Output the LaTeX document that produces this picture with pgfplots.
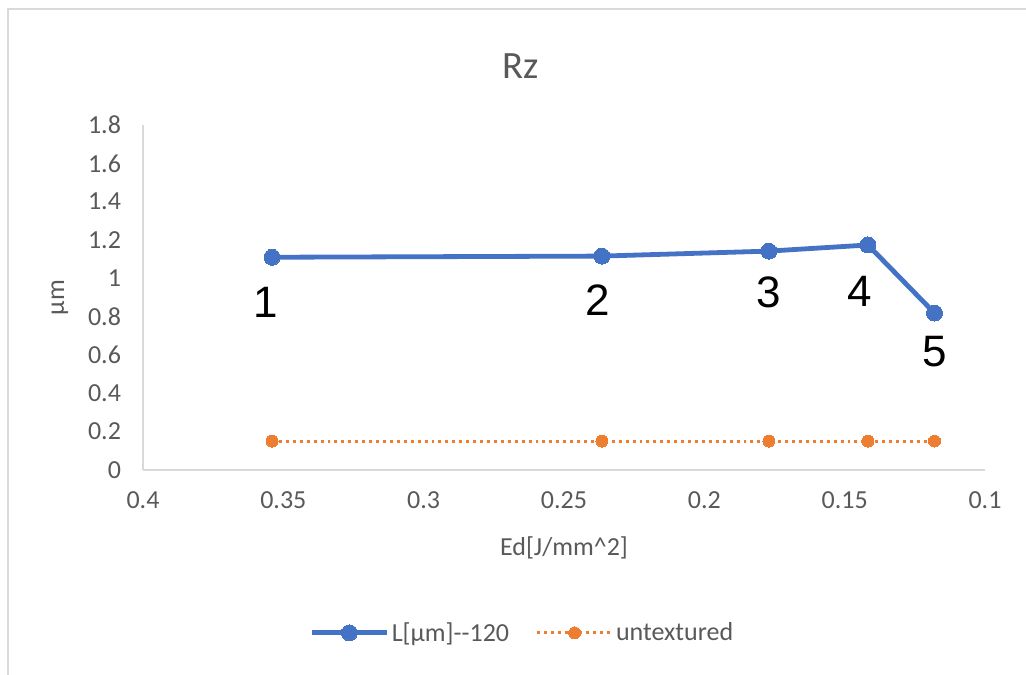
\documentclass[border=0pt]{standalone}
\usepackage{pgfplots}
\pgfplotsset{compat=1.18}
\usepackage{fontspec}
\setmainfont{Carlito}
\newfontfamily\arial{Liberation Sans}

\definecolor{serblue}{HTML}{4472C4}
\definecolor{serorange}{HTML}{ED7D31}
\definecolor{axgrey}{HTML}{D9D9D9}
\definecolor{txtgrey}{HTML}{595959}

\begin{document}
\begin{tikzpicture}[x=0.75pt,y=0.75pt]
  % page frame
  \path[use as bounding box] (0,0) rectangle (1026,675);
  \draw[axgrey, line width=2.2pt] (8,0) -- (8,666) -- (1026,666);

  % chart title
  \node[txtgrey, font=\fontsize{29}{29}\selectfont] at (521,609) {Rz};

  \begin{axis}[
    at={(143*0.75pt,205*0.75pt)}, anchor=south west,
    scale only axis,
    width=631.5pt, height=258.75pt,
    x dir=reverse,
    xmin=0.1, xmax=0.4, ymin=0, ymax=1.8,
    xtick={0.1,0.15,0.2,0.25,0.3,0.35,0.4},
    ytick={0,0.2,0.4,0.6,0.8,1,1.2,1.4,1.6,1.8},
    axis x line*=bottom, axis y line*=left,
    axis line style={axgrey, line width=1.5pt, -},
    major tick length=0pt,
    tick style={draw=none},
    /pgf/number format/assume math mode=true,
    /pgf/number format/fixed,
    /pgf/number format/precision=2,
    ticklabel style={txtgrey, font=\fontsize{19.5}{19.5}\selectfont},
    yticklabel style={xshift=-13pt},
    xticklabel style={yshift=-13pt},
    xlabel={Ed[J/mm\textasciicircum2]},
    ylabel={µm},
    label style={txtgrey, font=\fontsize{19.5}{19.5}\selectfont},
    xlabel style={yshift=-14pt},
    ylabel style={yshift=8pt},
    clip=false,
    legend columns=2,
    legend style={at={(0.451,-0.472)}, anchor=center, draw=none, fill=none,
      font=\fontsize{19.5}{19.5}\selectfont, text=txtgrey,
      /tikz/every even column/.append style={column sep=18pt}},
    legend image code/.code={
      \draw[mark repeat=2,mark phase=2,#1]
        plot coordinates {(0pt,0pt) (28pt,0pt) (56pt,0pt)};
    },
  ]
    \addplot[serblue, line width=3.6pt, mark=*, mark size=6pt,
      mark options={solid, fill=serblue, draw=serblue, line width=0pt}]
      coordinates {(0.354,1.11) (0.2365,1.116) (0.177,1.142) (0.1417,1.174) (0.118,0.819)};
    \addlegendentry{L[µm]-{}-120}

    \addplot[serorange, line width=2.2pt, dash pattern=on 2.2pt off 3pt,
      mark=*, mark size=4.5pt,
      mark options={solid, fill=serorange, draw=serorange, line width=0pt}]
      coordinates {(0.354,0.151) (0.2365,0.151) (0.177,0.151) (0.1417,0.151) (0.118,0.151)};
    \addlegendentry{untextured}

    % point numbers
    \begin{scope}[every node/.style={font=\arial\fontsize{33}{33}\selectfont, text=black}]
      \node[yshift=-34pt, xshift=-5pt] at (axis cs:0.354,1.11) {1};
      \node[yshift=-33pt, xshift=-3pt] at (axis cs:0.2365,1.116) {2};
      \node[yshift=-31pt] at (axis cs:0.177,1.142) {3};
      \node[yshift=-35pt, xshift=-6pt] at (axis cs:0.1417,1.174) {4};
      \node[yshift=-29pt] at (axis cs:0.118,0.819) {5};
    \end{scope}
  \end{axis}
\end{tikzpicture}
\end{document}
